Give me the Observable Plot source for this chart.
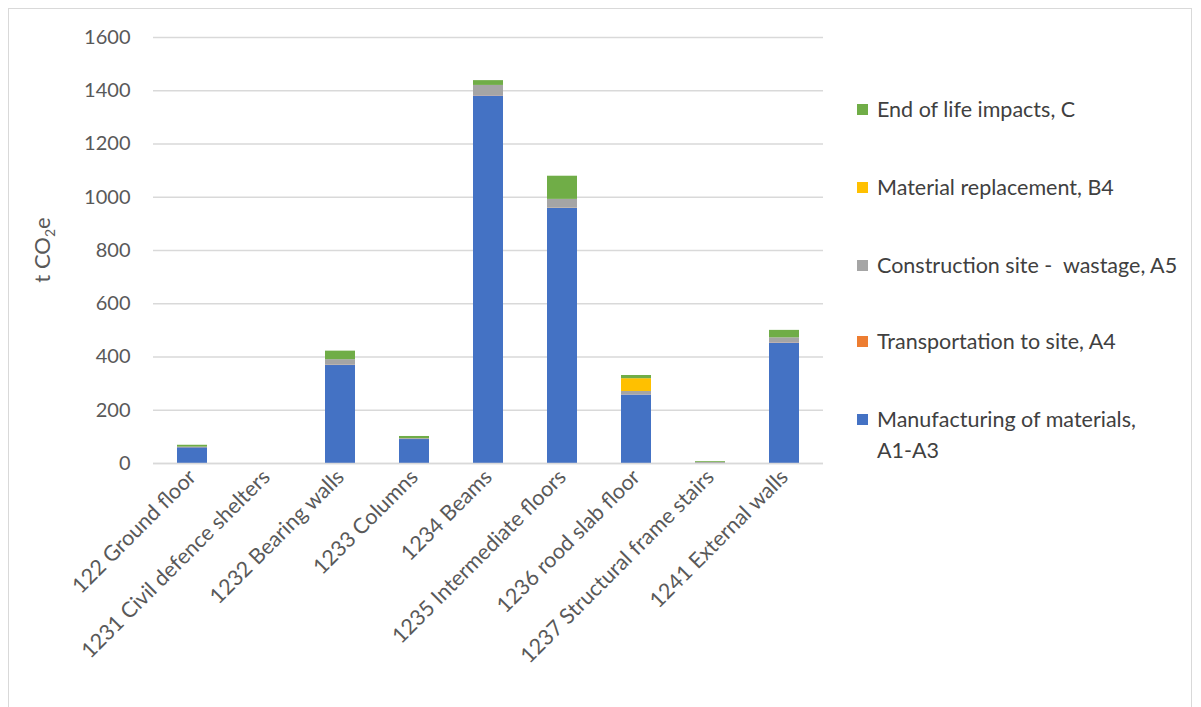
<!DOCTYPE html>
<html>
<head>
<meta charset="utf-8">
<script src="https://cdn.jsdelivr.net/npm/d3@7"></script>
<script src="https://cdn.jsdelivr.net/npm/@observablehq/plot@0.6"></script>
<style>
  html, body { margin: 0; padding: 0; background: #fff; }
  #wrap { position: relative; width: 1201px; height: 707px; font-family: Lato, "Open Sans", sans-serif; }
  #border { position: absolute; left: 8px; top: 8px; width: 1184px; height: 720px; border: 1.5px solid #d9d9d9; box-sizing: border-box; pointer-events: none; }
  #legend { position: absolute; left: 857px; top: 0; width: 340px; color: #404040; font-size: 21.5px; }
  .item { position: absolute; left: 0; display: flex; align-items: flex-start; line-height: 31px; white-space: nowrap; }
  .sw { width: 11px; height: 11px; margin-top: 10px; margin-right: 9px; flex: none; }
</style>
</head>
<body>
<div id="wrap">
  <div id="chart"></div>
  <div id="legend"></div>
  <div id="border"></div>
</div>
<script>
// Building elements (x axis categories)
const categories = [
  "122 Ground floor",
  "1231 Civil defence shelters",
  "1232 Bearing walls",
  "1233 Columns",
  "1234 Beams",
  "1235 Intermediate floors",
  "1236 rood slab floor",
  "1237 Structural frame stairs",
  "1241 External walls"
];

// Life-cycle stages, bottom of the stack first
const stages = [
  "Manufacturing of materials, A1-A3",
  "Transportation to site, A4",
  "Construction site -  wastage, A5",
  "Material replacement, B4",
  "End of life impacts, C"
];
const stageColors = ["#4472C4", "#ED7D31", "#A5A5A5", "#FFC000", "#70AD47"];

// Emissions per stage, t CO2e, one value per category
const manufacturingA1A3 = [59, 0, 368, 90, 1380, 958, 257, 0, 452];
const transportA4       = [0.5, 0, 1, 0.5, 1, 1, 0.5, 0, 1];
const wastageA5         = [2, 0, 21, 3, 39, 33, 13, 4, 19];
const replacementB4     = [0, 0, 0, 0, 0, 0, 48, 0, 0];
const endOfLifeC        = [7, 0, 32, 8, 18, 87, 12, 3, 28];

const yTicks = [0, 200, 400, 600, 800, 1000, 1200, 1400, 1600];

const series = [manufacturingA1A3, transportA4, wastageA5, replacementB4, endOfLifeC];
const rows = [];
series.forEach((values, s) => {
  values.forEach((v, i) => rows.push({category: categories[i], stage: stages[s], value: v}));
});

const chart = Plot.plot({
  width: 1201,
  height: 707,
  marginLeft: 153,
  marginRight: 378,
  marginTop: 37,
  marginBottom: 244,
  style: {fontFamily: "Lato, 'Open Sans', sans-serif", background: "transparent", overflow: "visible"},
  x: {domain: categories, paddingInner: 0.6, paddingOuter: 0.3},
  y: {domain: [0, 1600]},
  color: {domain: stages, range: stageColors},
  marks: [
    Plot.gridY(yTicks, {stroke: "#d9d9d9", strokeOpacity: 1, strokeWidth: 1.5}),
    Plot.barY(rows, Plot.stackY({
      x: "category", y: "value", fill: "stage", order: stages
    })),
    Plot.ruleY([0], {stroke: "#d9d9d9", strokeWidth: 1.5}),
    Plot.axisY(yTicks, {
      tickSize: 0, tickPadding: 23, fontSize: 20, fill: "#595959",
      tickFormat: d3.format("d"),
      label: null
    }),
    Plot.axisX({
      tickSize: 0, tickPadding: 10, tickRotate: -45, fontSize: 21.5, fill: "#595959", label: null
    })
  ]
});

// Rotated y-axis title with a true subscript
const svg = d3.select(chart);
const title = svg.append("text")
  .attr("transform", "translate(50,250) rotate(-90)")
  .attr("text-anchor", "middle")
  .attr("font-size", 22)
  .attr("fill", "#595959");
title.append("tspan").text("t CO");
title.append("tspan").attr("font-size", 14).attr("dy", 5).text("2");
title.append("tspan").attr("dy", -5).text("e");

document.getElementById("chart").appendChild(chart);

// Legend, listed top of the stack first
const legend = document.getElementById("legend");
const legendTops = [94, 172, 250, 326, 404];
const legendOrder = [4, 3, 2, 1, 0];
legendOrder.forEach((s, k) => {
  const item = document.createElement("div");
  item.className = "item";
  item.style.top = legendTops[k] + "px";
  const sw = document.createElement("span");
  sw.className = "sw";
  sw.style.background = stageColors[s];
  const label = document.createElement("span");
  label.style.whiteSpace = "pre";
  if (s === 0) {
    label.textContent = "Manufacturing of materials,\nA1-A3";
  } else {
    label.textContent = stages[s];
  }
  item.appendChild(sw);
  item.appendChild(label);
  legend.appendChild(item);
});
</script>
</body>
</html>
